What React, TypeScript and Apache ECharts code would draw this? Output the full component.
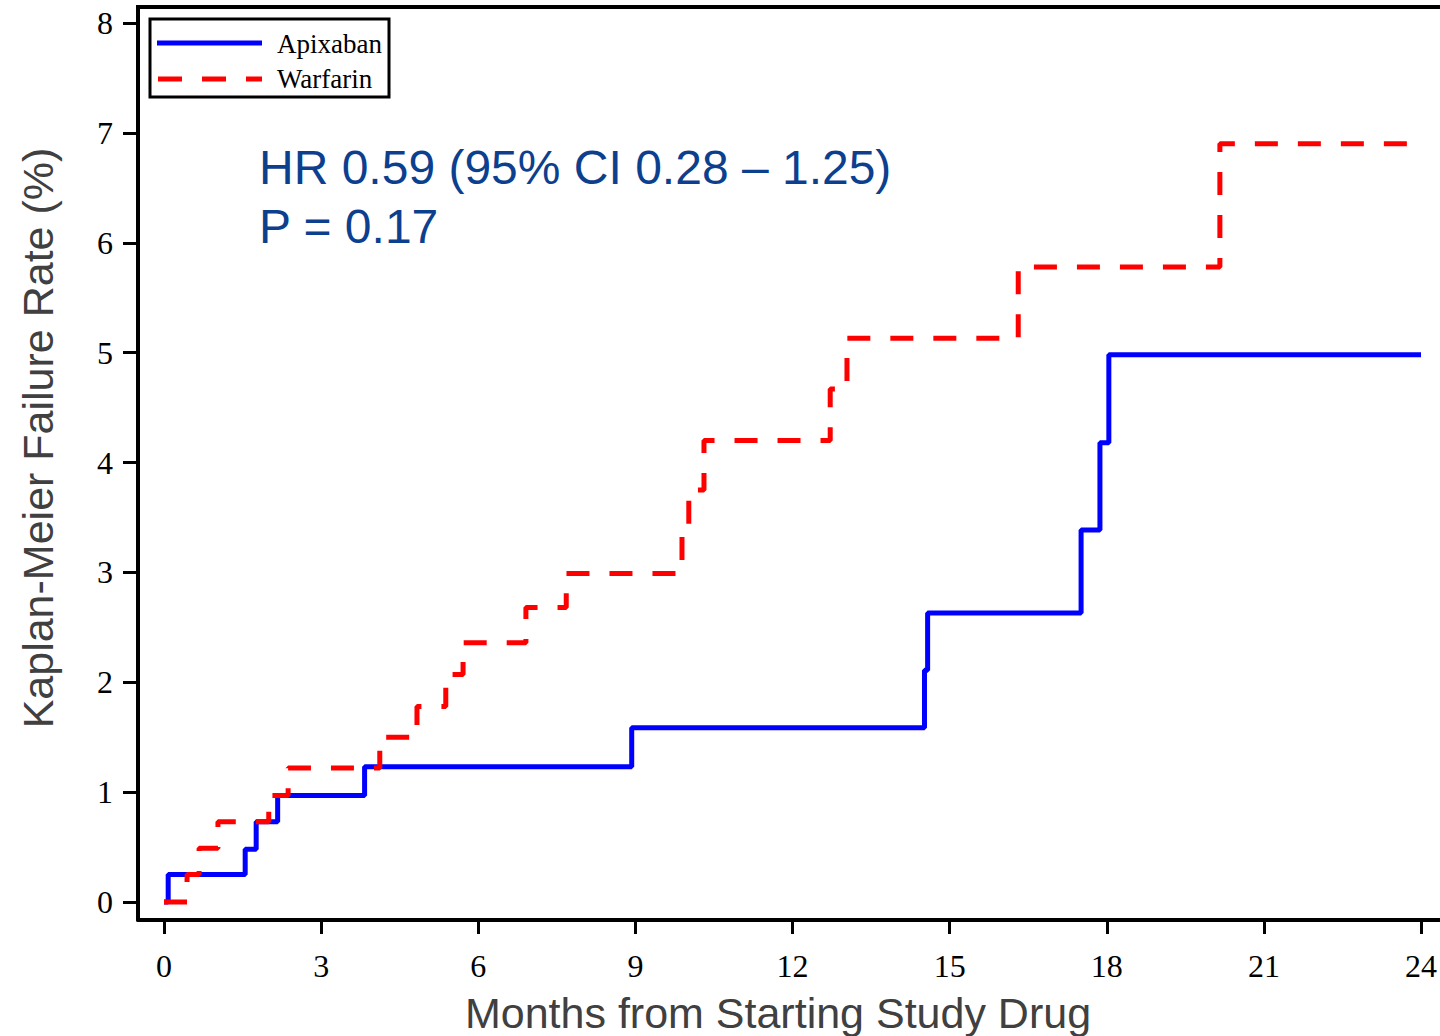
import React, { useEffect, useRef } from "react";
import * as echarts from "echarts";

const apixabanMonths = [0, 0.08, 1.55, 1.76, 2.17, 3.83, 8.93, 14.52, 14.58, 17.51, 17.87, 18.04, 24];
const apixabanRates = [0, 0.25, 0.48, 0.73, 0.97, 1.23, 1.585, 2.11, 2.63, 3.385, 4.18, 4.98, 4.98];

const warfarinMonths = [0, 0.44, 0.67, 1.03, 2.0, 2.37, 4.12, 4.83, 5.38, 5.71, 6.91, 7.68, 9.89, 10.02, 10.31, 12.72, 13.04, 16.31, 20.16, 24];
const warfarinRates = [0, 0.25, 0.49, 0.73, 0.97, 1.22, 1.5, 1.78, 2.07, 2.36, 2.68, 2.99, 3.43, 3.75, 4.2, 4.67, 5.13, 5.78, 6.9, 6.9];

const xTickValues = [0, 3, 6, 9, 12, 15, 18, 21, 24];
const yTickValues = [0, 1, 2, 3, 4, 5, 6, 7, 8];

const seriesNames = ["Apixaban", "Warfarin"];
const annotationLines = ["HR 0.59 (95% CI 0.28 \u2013 1.25)", "P = 0.17"];
const xTitle = "Months from Starting Study Drug";
const yTitle = "Kaplan-Meier Failure Rate (%)";

export default function App() {
  const ref = useRef<HTMLDivElement>(null);
  useEffect(() => {
    if (!ref.current) return;
    const chart = echarts.init(ref.current, undefined, { renderer: "svg" });
    const serif = "'Liberation Serif', 'Times New Roman', serif";
    const sans = "'Liberation Sans', Arial, sans-serif";
    const annColor = "#0d3f8f";
    const titleColor = "#404040";
    // frame (grid) spans x 138..1440, y 7..920; data 0..24 maps to 164..1421, 0..8 maps to 902..23
    const pxPerMonth = (1421 - 164) / 24;
    const pxPerUnit = (902 - 23) / 8;
    const xMin = -(164 - 138) / pxPerMonth;
    const xMax = 24 + (1440 - 1421) / pxPerMonth;
    const yMin = -(920 - 902) / pxPerUnit;
    const yMax = 8 + (23 - 7) / pxPerUnit;
    chart.setOption({
      animation: false,
      backgroundColor: "#ffffff",
      grid: { left: 138, right: 0, top: 7, bottom: 116 },
      xAxis: {
        type: "value",
        min: xMin,
        max: xMax,
        axisLine: { show: true, onZero: false, lineStyle: { color: "#000", width: 4 } },
        axisTick: { show: true, inside: false, length: 14, customValues: xTickValues, lineStyle: { color: "#000", width: 3 } },
        axisLabel: { margin: 30, fontFamily: serif, fontSize: 32, color: "#000", customValues: xTickValues, showMinLabel: true, showMaxLabel: true },
        splitLine: { show: false },
      },
      yAxis: {
        type: "value",
        min: yMin,
        max: yMax,
        axisLine: { show: true, onZero: false, lineStyle: { color: "#000", width: 4 } },
        axisTick: { show: true, inside: false, length: 15, customValues: yTickValues, lineStyle: { color: "#000", width: 3 } },
        axisLabel: { margin: 25, fontFamily: serif, fontSize: 32, color: "#000", customValues: yTickValues, showMinLabel: true, showMaxLabel: true },
        splitLine: { show: false },
      },
      series: [
        {
          name: seriesNames[0],
          type: "line",
          step: "end",
          symbol: "none",
          showSymbol: false,
          clip: false,
          lineStyle: { color: "#0000ff", width: 5 },
          data: apixabanMonths.map((m, i) => [m, apixabanRates[i]]),
          z: 2,
        },
        {
          name: seriesNames[1],
          type: "line",
          step: "end",
          symbol: "none",
          showSymbol: false,
          clip: false,
          lineStyle: { color: "#ff0000", width: 5, type: [23, 20] },
          data: warfarinMonths.map((m, i) => [m, warfarinRates[i]]),
          z: 3,
        },
      ],
      graphic: [
        {
          type: "line",
          shape: { x1: 136, y1: 7, x2: 1440, y2: 7 },
          style: { stroke: "#000", lineWidth: 4 },
          z: 10,
        },
        {
          type: "rect",
          shape: { x: 150, y: 19, width: 239, height: 78 },
          style: { stroke: "#000", lineWidth: 3, fill: "#fff" },
          z: 20,
        },
        {
          type: "line",
          shape: { x1: 157, y1: 43, x2: 262, y2: 43 },
          style: { stroke: "#0000ff", lineWidth: 5 },
          z: 21,
        },
        {
          type: "line",
          shape: { x1: 158, y1: 79, x2: 262, y2: 79 },
          style: { stroke: "#ff0000", lineWidth: 5, lineDash: [24, 20] },
          z: 21,
        },
        {
          type: "text",
          x: 277,
          y: 44,
          style: { text: seriesNames[0], fontFamily: serif, fontSize: 27, fill: "#000", textAlign: "left", textVerticalAlign: "middle" },
          z: 21,
        },
        {
          type: "text",
          x: 277,
          y: 79,
          style: { text: seriesNames[1], fontFamily: serif, fontSize: 27, fill: "#000", textAlign: "left", textVerticalAlign: "middle" },
          z: 21,
        },
        {
          type: "text",
          x: 259,
          y: 167,
          style: { text: annotationLines[0], fontFamily: sans, fontSize: 48, fill: annColor, textAlign: "left", textVerticalAlign: "middle" },
          z: 21,
        },
        {
          type: "text",
          x: 259,
          y: 226,
          style: { text: annotationLines[1], fontFamily: sans, fontSize: 48, fill: annColor, textAlign: "left", textVerticalAlign: "middle" },
          z: 21,
        },
        {
          type: "text",
          x: 778,
          y: 1013,
          style: { text: xTitle, fontFamily: sans, fontSize: 43, fill: titleColor, textAlign: "center", textVerticalAlign: "middle" },
          z: 21,
        },
        {
          type: "text",
          x: 38,
          y: 438,
          rotation: Math.PI / 2,
          style: { text: yTitle, fontFamily: sans, fontSize: 43, fill: titleColor, textAlign: "center", textVerticalAlign: "middle" },
          z: 21,
        },
      ],
    });
    return () => chart.dispose();
  }, []);
  return (
    <div
      ref={ref}
      style={{ position: "fixed", left: 0, top: 0, width: 1440, height: 1036, background: "#fff" }}
    />
  );
}
